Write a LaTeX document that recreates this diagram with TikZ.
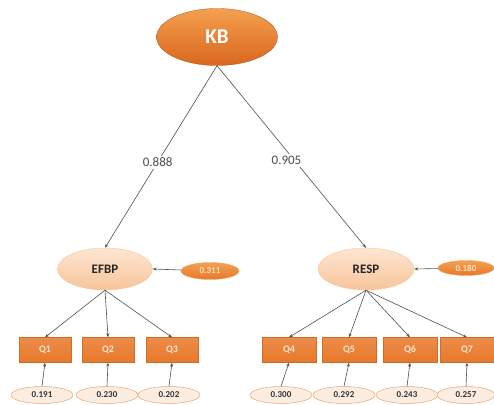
\documentclass[tikz,border=0pt]{standalone}
\usepackage{fontspec}
\setmainfont{Carlito}
\usetikzlibrary{shapes.geometric,arrows.meta}
\definecolor{kbdark}{HTML}{D9661C}
\definecolor{kblight}{HTML}{F4A050}
\definecolor{peachtop}{HTML}{FDE6D2}
\definecolor{peachbot}{HTML}{F7C49A}
\definecolor{qorange}{HTML}{E8782A}
\definecolor{qtext}{HTML}{FBE3C8}
\definecolor{errfill}{HTML}{FDEDE0}
\definecolor{errline}{HTML}{EBA66C}
\definecolor{linegray}{HTML}{505050}
\begin{document}
\begin{tikzpicture}[x=1pt, y=-1pt,
  topvar/.style={ellipse, top color=kblight, bottom color=kbdark, draw=kbdark!80!black, line width=0.3pt,
    minimum width=121pt, minimum height=57pt, inner sep=0pt, text=white, font=\fontsize{21}{21}\selectfont\bfseries},
  latent/.style={ellipse, top color=peachtop, bottom color=peachbot, draw=peachbot, line width=0.4pt,
    minimum width=95pt, minimum height=42pt, inner sep=0pt, text=black!85, font=\fontsize{13}{13}\selectfont\bfseries},
  resid/.style={ellipse, top color=kblight, bottom color=qorange, draw=errline, line width=0.4pt,
    minimum width=58pt, minimum height=17pt, inner sep=0pt, text=qtext, font=\fontsize{9}{9}\selectfont\bfseries},
  qbox/.style={rectangle, top color=qorange!85!white, bottom color=qorange, draw=qorange!90!black, line width=0.3pt,
    minimum width=52pt, minimum height=25pt, inner sep=0pt, text=qtext, font=\fontsize{10}{10}\selectfont\bfseries},
  errvar/.style={ellipse, fill=errfill, draw=errline, line width=0.5pt,
    minimum width=62pt, minimum height=17pt, inner sep=0pt, text=black!80, font=\fontsize{9}{9}\selectfont\bfseries},
  link/.style={draw=linegray, line width=0.6pt, -{Stealth[length=4pt,width=3pt]}},
  coef/.style={fill=white, inner sep=2pt, text=black!70, font=\fontsize{13}{13}\selectfont}]

\useasboundingbox (0,0) rectangle (494,404);

\node[topvar] (kb) at (217,37) {KB};

\node[latent] (efbp) at (105,269) {EFBP};
\node[latent, minimum width=96pt] (resp) at (366,269) {RESP};

\node[resid] (r1) at (210,271) {0.311};
\node[resid, minimum width=56pt, minimum height=15pt] (r2) at (466,268) {0.180};

\node[qbox] (q1) at (45,350) {Q1};
\node[qbox] (q2) at (108,350) {Q2};
\node[qbox] (q3) at (172,350) {Q3};
\node[qbox, minimum width=54pt] (q4) at (289,350) {Q4};
\node[qbox, minimum width=54pt] (q5) at (349,350) {Q5};
\node[qbox, minimum width=54pt] (q6) at (410,350) {Q6};
\node[qbox, minimum width=54pt] (q7) at (467,350) {Q7};

\node[errvar] (e1) at (42,395) {0.191};
\node[errvar] (e2) at (107,395) {0.230};
\node[errvar] (e3) at (169,395) {0.202};
\node[errvar] (e4) at (281,395) {0.300};
\node[errvar] (e5) at (344,395) {0.292};
\node[errvar] (e6) at (407,395) {0.243};
\node[errvar, minimum width=58pt] (e7) at (466,395) {0.257};

\draw[link] (kb.south) -- node[coef, pos=0.53] {0.888} (efbp.north);
\draw[link] (kb.south) -- node[coef, pos=0.52, xshift=-8pt] {0.905} (resp.north);

\draw[link] (r1) -- (efbp.east);
\draw[link] (r2) -- (resp.east);

\foreach \q in {q1,q2,q3}
  \draw[link] (efbp.south) -- (\q.north);
\foreach \q in {q4,q5,q6,q7}
  \draw[link] (resp.south) -- (\q.north);

\foreach \e/\q in {e1/q1,e2/q2,e3/q3,e4/q4,e5/q5,e6/q6,e7/q7}
  \draw[link] (\e.north) -- (\q.south);
\end{tikzpicture}
\end{document}
